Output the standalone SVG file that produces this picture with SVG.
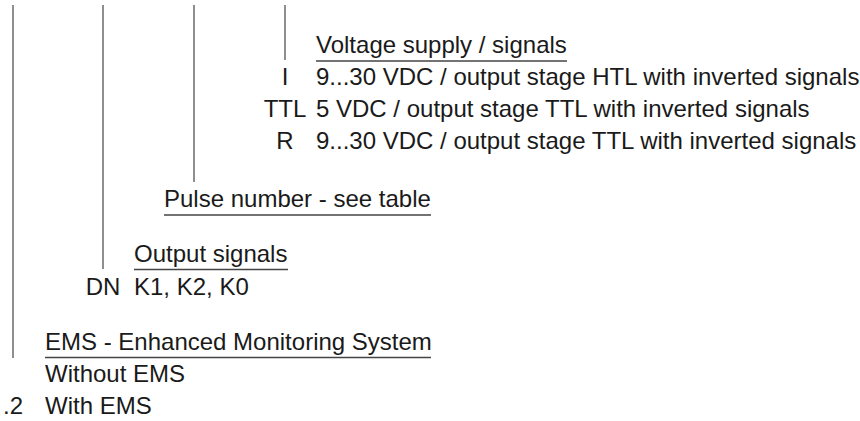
<svg xmlns="http://www.w3.org/2000/svg" width="860" height="421" viewBox="0 0 860 421">
<style>
text{font-family:"Liberation Sans",Arial,sans-serif;font-size:24px;fill:#1a1a1a}
.c{text-anchor:middle}
.ln{stroke:#444;stroke-width:1.2;fill:none}
.ul{stroke:#444;stroke-width:1.4;fill:none}
</style>
<rect width="860" height="421" fill="#fff"/>
<g id="connectors">
<line class="ln" x1="13" y1="5" x2="13" y2="358"/>
<line class="ln" x1="103" y1="5" x2="103" y2="269"/>
<line class="ln" x1="194" y1="5" x2="194" y2="182"/>
<line class="ln" x1="285" y1="5" x2="285" y2="60"/>
</g>
<g id="voltage">
<text x="316" y="53">Voltage supply / signals</text>
<line class="ul" x1="316" y1="61" x2="567" y2="61"/>
<text class="c" x="285" y="85">I</text>
<text x="316" y="85">9...30 VDC / output stage HTL with inverted signals</text>
<text class="c" x="285" y="117">TTL</text>
<text x="316" y="117">5 VDC / output stage TTL with inverted signals</text>
<text class="c" x="285" y="149">R</text>
<text x="316" y="149">9...30 VDC / output stage TTL with inverted signals</text>
</g>
<g id="pulse">
<text x="164" y="207">Pulse number - see table</text>
<line class="ul" x1="164" y1="215" x2="431" y2="215"/>
</g>
<g id="output">
<text x="134" y="262">Output signals</text>
<line class="ul" x1="134" y1="269.5" x2="288" y2="269.5"/>
<text class="c" x="103" y="295">DN</text>
<text x="134" y="295">K1, K2, K0</text>
</g>
<g id="ems">
<text x="45" y="350">EMS - Enhanced Monitoring System</text>
<line class="ul" x1="45" y1="357.5" x2="431" y2="357.5"/>
<text x="45" y="382">Without EMS</text>
<text class="c" x="13" y="414">.2</text>
<text x="45" y="414">With EMS</text>
</g>
</svg>
